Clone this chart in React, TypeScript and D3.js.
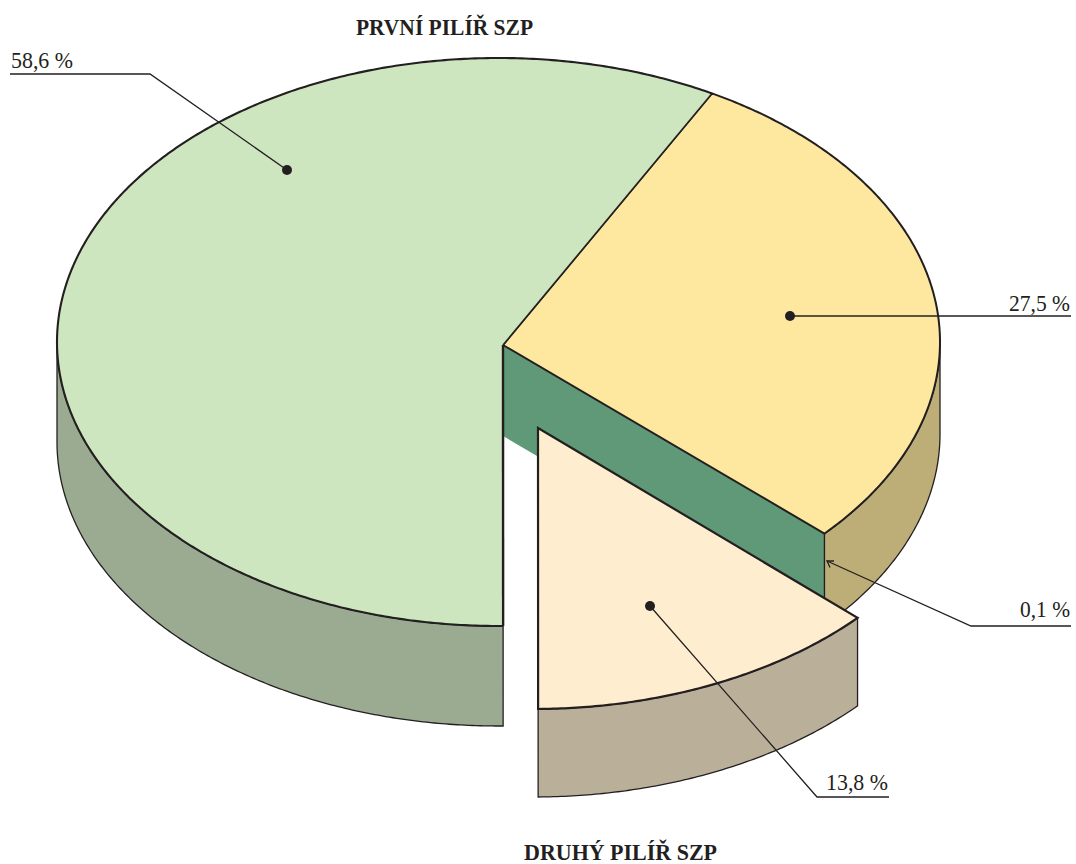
import React from "react";
import * as d3 from "d3";

// Data
const labels = ["58,6 %", "27,5 %", "0,1 %", "13,8 %"];
// Shares as actually drawn in the picture (percent of the full turn)
const drawnShares = [58.2, 28.75, 0.1, 12.95];
const pillarTitles = ["PRVNÍ PILÍŘ SZP", "DRUHÝ PILÍŘ SZP"];

const INK = "#231f20";
const topColors = ["#cde6c0", "#fee8a0", "#5f9977", "#feeecf"];
const sideColors = ["#9aab92", "#bdae78", "#5f9977", "#bab09a"];
const depths = [100, 92, 91, 88];

const W = 1076;
const H = 864;
const deg = Math.PI / 180;

const sx = d3.scaleLinear().domain([-1, 1]).range([57, 940]);
const sy = d3.scaleLinear().domain([-1, 1]).range([58, 626]);
const APEX = { x: 4.5, y: 3 };
const EXPLODE = { x: 35, y: 83 };

const pie = d3
  .pie<number>()
  .sort(null)
  .value((d) => d)
  .startAngle(179.4 * deg)
  .endAngle((179.4 + 360) * deg);
const arcs = pie(drawnShares);

const line = d3.line<[number, number]>();

function rim(a0: number, a1: number, dx = 0, dy = 0): [number, number][] {
  const n = Math.max(2, Math.ceil(Math.abs(a1 - a0) / (0.5 * deg)));
  return d3.range(n + 1).map((i) => {
    const a = a0 + ((a1 - a0) * i) / n;
    return [sx(Math.sin(a)) + dx, sy(-Math.cos(a)) + dy] as [number, number];
  });
}

const apexPt = (dx = 0, dy = 0): [number, number] => [sx(0) + APEX.x + dx, sy(0) + APEX.y + dy];

function topFace(a0: number, a1: number, dx = 0, dy = 0) {
  return line([apexPt(dx, dy), ...rim(a0, a1, dx, dy)]) + "Z";
}
function sideWall(a0: number, a1: number, depth: number, dx = 0, dy = 0) {
  return line([...rim(a0, a1, dx, dy), ...rim(a1, a0, dx, dy + depth)]) + "Z";
}

const [green, yellow, , cream] = arcs;

export default function App() {
  const g0 = green.startAngle;
  const g1 = green.endAngle;
  const y0 = yellow.startAngle;
  const y1 = yellow.endAngle;
  const c0 = cream.startAngle;
  const c1 = cream.endAngle;
  const corner = rim(y1, y1)[0];
  const ex = EXPLODE.x;
  const ey = EXPLODE.y;
  const wallD = depths[2];
  const wall =
    line([apexPt(), corner, [corner[0], corner[1] + wallD], apexPt(0, wallD)]) + "Z";
  const gEnd = rim(g1, g1)[0];
  const gStart = rim(g0, g0)[0];

  return (
    <svg
      width={W}
      height={H}
      viewBox={`0 0 ${W} ${H}`}
      style={{ position: "absolute", left: 0, top: 0, display: "block" }}
      fontFamily="'Liberation Serif', serif"
      fill={INK}
    >
      <rect width={W} height={H} fill="#fff" />
      {/* yellow outer wall */}
      <path d={sideWall(450 * deg, y1, depths[1])} fill={sideColors[1]} stroke={INK} strokeWidth={1.3} />
      {/* exposed dark-green cut */}
      <path d={wall} fill={sideColors[2]} />
      <line x1={corner[0]} x2={corner[0]} y1={corner[1]} y2={corner[1] + wallD} stroke={INK} strokeWidth={1.3} />
      {/* green outer wall */}
      <path d={sideWall(g0, 270 * deg, depths[0])} fill={sideColors[0]} stroke={INK} strokeWidth={1.3} />
      {/* exploded slice wall */}
      <path d={sideWall(c0, c1, depths[3], ex, ey)} fill={sideColors[3]} stroke={INK} strokeWidth={1.3} />

      {/* top faces */}
      <path d={topFace(y0, y1)} fill={topColors[1]} stroke={INK} strokeWidth={2} strokeLinejoin="round" />
      <path d={topFace(g0, g1)} fill={topColors[0]} stroke="none" />
      <path d={line(rim(g0, g1))!} fill="none" stroke={INK} strokeWidth={2.1} />
      <line x1={apexPt()[0]} y1={apexPt()[1]} x2={gEnd[0]} y2={gEnd[1]} stroke={INK} strokeWidth={1.5} />
      <line x1={apexPt()[0]} y1={apexPt()[1]} x2={gStart[0]} y2={gStart[1]} stroke={INK} strokeWidth={2.4} />
      <path d={topFace(c0, c1, ex, ey)} fill={topColors[3]} stroke={INK} strokeWidth={2.2} strokeLinejoin="miter" />

      {/* leaders */}
      <g fill="none" stroke={INK} strokeWidth={1.3}>
        <polyline points="10,74 150,74 287,170" />
        <polyline points="790,316 1071,316" />
        <polyline points="1071,626 971,626 827,561" />
        <polyline points="834,561 827,561 830,567.5" />
        <polyline points="650,606 817,797 889,797" />
      </g>
      <circle cx={287} cy={170} r={5} />
      <circle cx={790} cy={316} r={5} />
      <circle cx={650} cy={606} r={5} />

      {/* value labels */}
      <g fontSize={23}>
        <text x={11} y={68} textLength={62} lengthAdjust="spacingAndGlyphs">{labels[0]}</text>
        <text x={1009} y={311} textLength={61} lengthAdjust="spacingAndGlyphs">{labels[1]}</text>
        <text x={1020} y={617} textLength={50} lengthAdjust="spacingAndGlyphs">{labels[2]}</text>
        <text x={826} y={790} textLength={62} lengthAdjust="spacingAndGlyphs">{labels[3]}</text>
      </g>
      <g fontSize={23.5} fontWeight="bold">
        <text x={356} y={35} textLength={177} lengthAdjust="spacingAndGlyphs">{pillarTitles[0]}</text>
        <text x={524} y={860} textLength={193} lengthAdjust="spacingAndGlyphs">{pillarTitles[1]}</text>
      </g>
    </svg>
  );
}
